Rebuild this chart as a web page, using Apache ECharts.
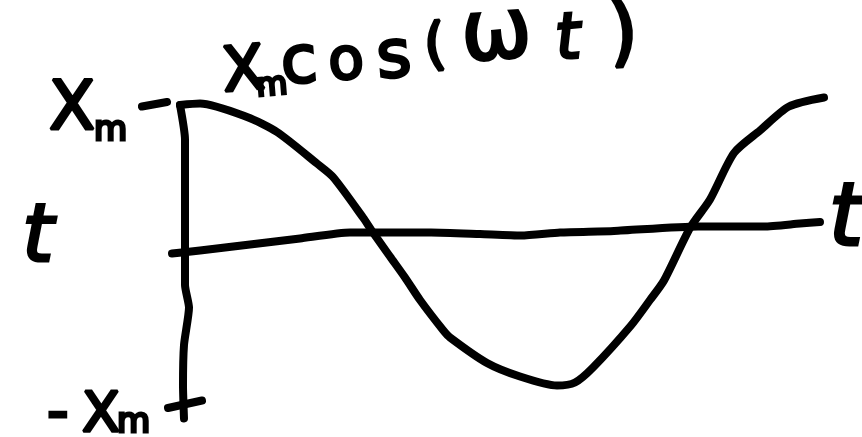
<!DOCTYPE html>
<html>
<head>
<meta charset="utf-8">
<script src="https://cdn.jsdelivr.net/npm/echarts/dist/echarts.min.js"></script>
<style>
  html, body { margin: 0; padding: 0; background: #ffffff; }
  #chart { width: 862px; height: 437px; }
</style>
</head>
<body>
<div id="chart"></div>
<script>
// Hand sketch of x(t) = Xm cos(ωt).
// Horizontal values: time t (arbitrary units); vertical values: displacement in units of Xm.

// the cosine stroke
const curveT = [-0.03, 0.17, 0.64, 0.94, 1.34, 1.50, 1.80, 1.90, 2.07, 2.22, 2.37, 2.60, 2.67, 3.04, 3.37, 3.74, 3.92, 4.10, 4.48, 4.67, 4.81, 5.07, 5.27, 5.51, 5.77, 6.06, 6.41];
const curveX = [1.00, 1.01, 0.92, 0.82, 0.61, 0.52, 0.25, 0.15, -0.01, -0.15, -0.30, -0.50, -0.55, -0.72, -0.81, -0.87, -0.85, -0.75, -0.47, -0.30, -0.17, 0.18, 0.37, 0.68, 0.83, 0.99, 1.05];

// the drawn time axis (slightly tilted, as sketched)
const timeAxisT = [-0.11, 0.17, 0.67, 1.17, 1.67, 2.00, 2.48, 2.97, 3.38, 3.77, 4.31, 5.15, 5.81, 6.17, 6.37];
const timeAxisX = [0.01, 0.03, 0.07, 0.11, 0.15, 0.15, 0.15, 0.14, 0.13, 0.15, 0.16, 0.19, 0.19, 0.21, 0.22];

// the drawn displacement axis
const dispAxisT = [-0.03, 0.02, 0.02, 0.02, 0.06, 0.01, 0.00, 0.01];
const dispAxisX = [1.00, 0.77, 0.23, -0.20, -0.35, -0.60, -0.87, -1.09];

// tick marks at +Xm and -Xm
const topTickT = [-0.41, -0.16];
const topTickX = [0.99, 1.02];
const bottomTickT = [-0.15, 0.19];
const bottomTickX = [-1.02, -0.97];

// text
const titleText = '{X|X}{m|m}{c|c}{o|o}{s|s}{p|(}{w|ω}{t|t}{q|)}';
const maxLabel = '{X|X}{m|m}';
const minLabel = '{d|-}{X|X}{m|m}';
const timeLabel = 't';

const zip = (a, b) => a.map((v, i) => [v, b[i]]);
const ink = '#000000';
const stroke = (data, smooth) => ({
  type: 'line',
  data: data,
  showSymbol: false,
  symbol: 'none',
  smooth: smooth,
  clip: false,
  silent: true,
  lineStyle: { color: ink, width: 8, cap: 'round', join: 'round' }
});

const family = 'DejaVu Sans';
// Rich-text token, bottom-aligned in its line; `lift` raises it by that many pixels.
const tok = (size, lift, extra) => Object.assign({
  fontSize: size, fontFamily: family, fill: ink, stroke: ink, lineWidth: 3,
  verticalAlign: 'bottom',
  padding: [0, 0, lift || 0, 0]
}, extra || {});
const textBase = { fill: ink, stroke: ink, lineWidth: 3, fontFamily: family };
const mid = (w) => ({ width: w, align: 'center' });

const chart = echarts.init(document.getElementById('chart'), null, { renderer: 'canvas' });
chart.setOption({
  animation: false,
  backgroundColor: '#ffffff',
  grid: { left: 133, top: 60, width: 700, height: 375 },
  xAxis: { type: 'value', min: -0.5, max: 6.5, show: false },
  yAxis: { type: 'value', min: -1.2, max: 1.3, show: false },
  series: [
    stroke(zip(dispAxisT, dispAxisX), 0.2),
    stroke(zip(timeAxisT, timeAxisX), 0.2),
    stroke(zip(topTickT, topTickX), false),
    stroke(zip(bottomTickT, bottomTickX), false),
    stroke(zip(curveT, curveX), 0.25)
  ],
  graphic: [
    {
      type: 'text', x: 229, y: 115, rotation: 0.08,
      style: Object.assign({}, textBase, {
        text: titleText, textAlign: 'left', textVerticalAlign: 'bottom',
        rich: {
          X: tok(62, 9, mid(36)),
          m: tok(32, 9, mid(18)),
          c: tok(66, 11, mid(40)),
          o: tok(58, 13, mid(54)),
          s: tok(66, 9, mid(42)),
          p: tok(56, 22, mid(42)),
          w: tok(84, 15, mid(82)),
          t: tok(64, 14, Object.assign(mid(60), { fontStyle: 'italic' })),
          q: tok(80, 8, mid(50))
        }
      })
    },
    {
      type: 'text', x: 50, y: 155,
      style: Object.assign({}, textBase, {
        text: maxLabel, textAlign: 'left', textVerticalAlign: 'bottom',
        rich: {
          X: tok(68, 10, mid(44)),
          m: tok(34, 7, { align: 'left' })
        }
      })
    },
    {
      type: 'text', x: 47, y: 447,
      style: Object.assign({}, textBase, {
        text: minLabel, textAlign: 'left', textVerticalAlign: 'bottom',
        rich: {
          d: tok(60, 2, { width: 38, align: 'left' }),
          X: tok(56, 3, mid(32)),
          m: tok(34, 7, { align: 'left' })
        }
      })
    },
    {
      type: 'text', x: 38, y: 240,
      style: Object.assign({}, textBase, {
        text: timeLabel, fontSize: 80, fontStyle: 'italic',
        textAlign: 'center', textVerticalAlign: 'middle'
      })
    },
    {
      type: 'text', x: 846, y: 222,
      style: Object.assign({}, textBase, {
        text: timeLabel, fontSize: 88, fontStyle: 'italic',
        textAlign: 'center', textVerticalAlign: 'middle'
      })
    }
  ]
});
</script>
</body>
</html>
